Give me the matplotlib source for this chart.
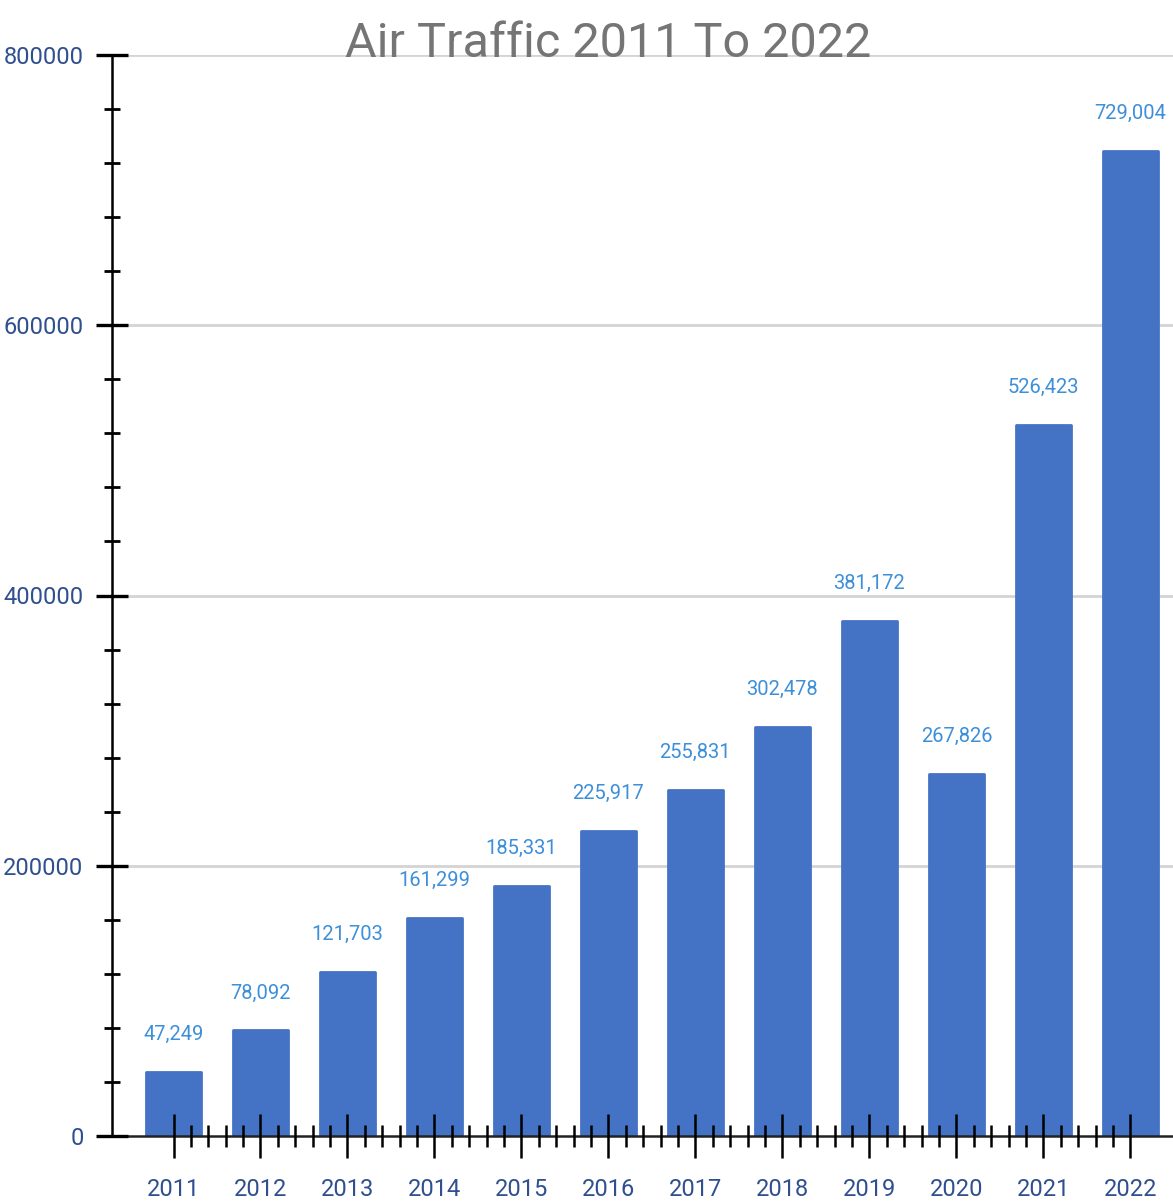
import matplotlib.pyplot as plt
from matplotlib.ticker import MultipleLocator, FixedLocator
import numpy as np

years = ['2011', '2012', '2013', '2014', '2015', '2016',
         '2017', '2018', '2019', '2020', '2021', '2022']
traffic = [47249, 78092, 121703, 161299, 185331, 225917,
           255831, 302478, 381172, 267826, 526423, 729004]

BAR = '#4472C4'
LABEL = '#3D8FD9'
TICK = '#2F4F8F'
FONT = ['Roboto', 'DejaVu Sans']

fig = plt.figure(figsize=(11.73, 12.02), dpi=100)
ax = fig.add_axes([112 / 1173, 1 - 1136 / 1202, 1 - 112 / 1173, (1136 - 55) / 1202])
ax.set_axisbelow(False)

x = np.arange(len(years))
ax.bar(x, traffic, width=0.63, color=BAR, edgecolor=BAR,
       linewidth=2, joinstyle='round', zorder=2)

for xi, v in zip(x, traffic):
    ax.annotate(f'{v:,}', (xi, v), xytext=(0, 23), textcoords='offset points',
                ha='center', va='baseline', color=LABEL, fontsize=14.5,
                family=FONT, zorder=3,
                bbox=dict(boxstyle='square,pad=0.1', fc='white', ec='none'))

ax.set_xlim(-0.707, 11.49)
ax.set_ylim(0, 800000)

# gridlines drawn by hand so the tick marks can sit over the bars
for g in [200000, 400000, 600000, 800000]:
    ax.axhline(g, color='#d4d4d4', linewidth=2, zorder=0)

for s in ['top', 'right']:
    ax.spines[s].set_visible(False)
ax.spines['left'].set_linewidth(1.8)
ax.spines['bottom'].set_linewidth(1.8)
ax.spines['bottom'].set_color('#222222')
ax.spines['left'].set_color('black')

ax.yaxis.set_minor_locator(MultipleLocator(40000))
ax.set_yticks([0, 200000, 400000, 600000, 800000])
ax.set_yticklabels(['0', '200000', '400000', '600000', '800000'], family=FONT)
ax.tick_params(axis='y', which='major', direction='inout', length=23, width=2.4,
               colors='black', labelcolor=TICK, labelsize=17, pad=9)
ax.tick_params(axis='y', which='minor', direction='inout', length=11.5, width=2,
               colors='black')

ax.set_xticks(x)
ax.set_xticklabels(years, family=FONT)
minor = [a + k / 5 for a in x[:-1] for k in range(1, 5)]
ax.xaxis.set_minor_locator(FixedLocator(minor))
ax.tick_params(axis='x', which='major', direction='inout', length=31, width=1.8,
               colors='black', labelcolor=TICK, labelsize=17, pad=15)
ax.tick_params(axis='x', which='minor', direction='inout', length=16, width=1.8,
               colors='black')

fig.text(608 / 1173, 1 - 57 / 1202, 'Air Traffic 2011 To 2022', ha='center',
         va='baseline', color='#757575', fontsize=35, family=FONT)

plt.savefig('out.png', dpi=100)
